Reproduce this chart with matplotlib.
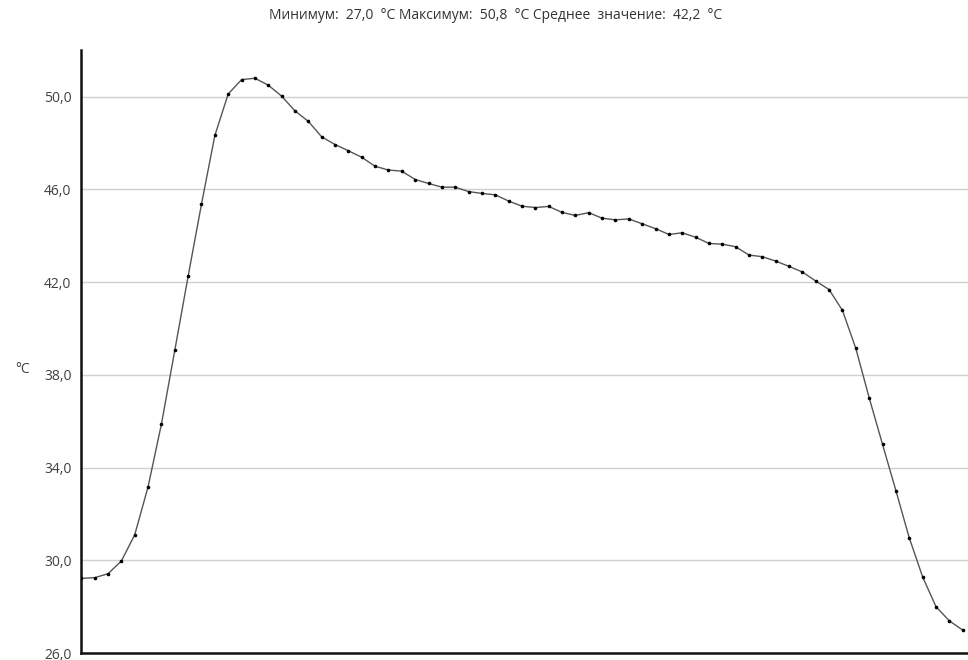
import numpy as np
import matplotlib.pyplot as plt
from matplotlib.ticker import FuncFormatter

plt.rcParams['font.family'] = ['Open Sans', 'DejaVu Sans']

# Temperature readings, one per sample
temps = [29.22, 29.25, 29.42, 29.97, 31.10, 33.17, 35.88, 39.06, 42.26, 45.37,
         48.33, 50.12, 50.74, 50.80, 50.50, 50.03, 49.39, 48.94, 48.27, 47.94,
         47.67, 47.39, 47.00, 46.84, 46.79, 46.43, 46.26, 46.10, 46.10, 45.91,
         45.83, 45.77, 45.50, 45.28, 45.22, 45.27, 45.01, 44.88, 45.00, 44.76,
         44.69, 44.73, 44.52, 44.31, 44.06, 44.13, 43.94, 43.67, 43.64, 43.53,
         43.17, 43.10, 42.91, 42.68, 42.44, 42.05, 41.68, 40.78, 39.14, 37.01,
         35.00, 33.01, 30.97, 29.29, 28.00, 27.39, 26.99]
y_ticks = [26, 30, 34, 38, 42, 46, 50]
title = "Минимум:  27,0  °C Максимум:  50,8  °C Среднее  значение:  42,2  °C"

x = np.arange(len(temps))

fig = plt.figure(figsize=(9.68, 6.6), dpi=100)
ax = fig.add_axes([0.084, 0.0106, 0.916, 0.913])

ax.plot(x, temps, color='#555555', linewidth=1.0, zorder=3)
ax.plot(x, temps, linestyle='none', marker='o', markersize=1.6,
        color='black', zorder=4)

ax.set_xlim(0, 66.4)
ax.set_ylim(26, 52)
ax.set_yticks(y_ticks)
ax.yaxis.set_major_formatter(FuncFormatter(lambda v, p: f"{v:.1f}".replace('.', ',')))
ax.set_xticks([])
ax.tick_params(axis='y', length=0, pad=7, labelsize=10, labelcolor='#404040')

ax.grid(axis='y', color='#d0d0d0', linewidth=1)
ax.set_axisbelow(True)
for s in ['top', 'right']:
    ax.spines[s].set_visible(False)
for s in ['left', 'bottom']:
    ax.spines[s].set_linewidth(1.8)
    ax.spines[s].set_color('#111111')

fig.text(0.512, 0.977, title, ha='center', va='center', fontsize=10, color='#333333')
fig.text(0.023, 0.44, '°C', ha='center', va='center', fontsize=10, color='#404040')

fig.savefig('out.png', dpi=100)
